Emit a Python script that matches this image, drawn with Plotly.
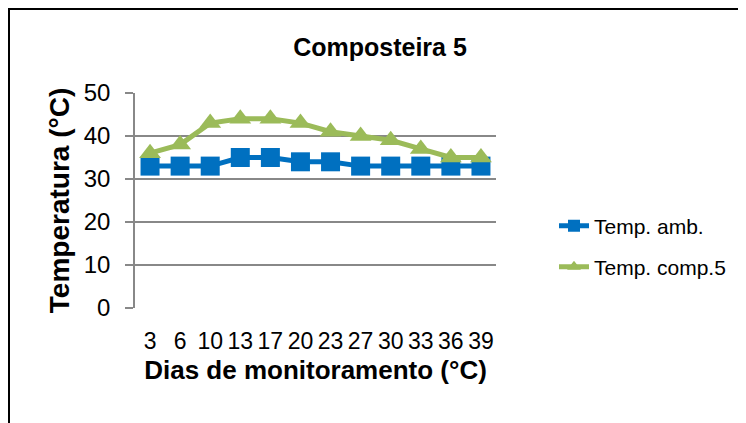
import plotly.graph_objects as go

dias = ["3", "6", "10", "13", "17", "20", "23", "27", "30", "33", "36", "39"]
temp_amb = [33, 33, 33, 35, 35, 34, 34, 33, 33, 33, 33, 33]
temp_comp5 = [36, 38, 43, 44, 44, 43, 41, 40, 39, 37, 35, 35]

FONT = "Liberation Sans, Arial, sans-serif"
BLUE = "#0070C0"
GREEN = "#9BBB59"
GRID = "#888888"

# page has an 8px body margin, so the figure is 738x415
W, H = 738, 415
L, R, T, B = 127, 250, 85, 115
PW, PH = W - L - R, H - T - B

def px(x):
    return (x - L) / PW

def py(y):
    return (H - B - y) / PH

fig = go.Figure()
fig.add_trace(go.Scatter(
    x=dias, y=temp_amb, name="Temp. amb.", mode="lines+markers",
    line=dict(color=BLUE, width=5),
    marker=dict(symbol="square", size=19, color=BLUE),
    legend="legend",
))
fig.add_trace(go.Scatter(
    x=dias, y=temp_comp5, name="Temp. comp.5", mode="lines+markers",
    line=dict(color=GREEN, width=5),
    marker=dict(symbol="triangle-up", size=19, color=GREEN),
    legend="legend2",
))

legend_common = dict(xanchor="left", yanchor="middle",
                     font=dict(size=21, family=FONT, color="black"),
                     bgcolor="rgba(0,0,0,0)", itemsizing="constant")

fig.update_layout(
    width=W, height=H,
    margin=dict(l=L, r=R, t=T, b=B, pad=0),
    paper_bgcolor="white", plot_bgcolor="white",
    font=dict(family=FONT, color="black"),
    title=dict(text="<b>Composteira 5</b>", x=372 / W, xanchor="center",
               y=1 - 39 / H, yanchor="middle",
               font=dict(size=25, family=FONT, color="black")),
    legend=dict(x=px(546), y=py(218), **legend_common),
    legend2=dict(x=px(546), y=py(259), **legend_common),
    showlegend=True,
    shapes=[dict(type="rect", xref="paper", yref="paper",
                 x0=px(1), x1=px(760), y0=py(440), y1=py(1),
                 line=dict(color="black", width=2), layer="below")],
)

fig.update_xaxes(
    type="category",
    range=[-0.5, len(dias) - 0.5],
    tickmode="array", tickvals=dias, ticktext=dias, tickangle=0,
    showgrid=False, showline=False, zeroline=False,
    ticks="", ticklabelstandoff=17,
    tickfont=dict(size=23, family=FONT),
    title=dict(text="<b>Dias de monitoramento (°C)</b>",
               font=dict(size=26, family=FONT), standoff=7),
)
fig.update_yaxes(
    range=[0, 50], dtick=10,
    showgrid=True, gridcolor=GRID, gridwidth=1.5,
    showline=True, linecolor=GRID, linewidth=1.5,
    zeroline=False,
    ticks="outside", ticklen=8, tickcolor=GRID, tickwidth=1.5,
    ticklabelstandoff=10,
    tickfont=dict(size=24, family=FONT),
    title=dict(text="<b>Temperatura (°C)</b>",
               font=dict(size=28, family=FONT), standoff=6),
)

fig.write_html("out.html")
